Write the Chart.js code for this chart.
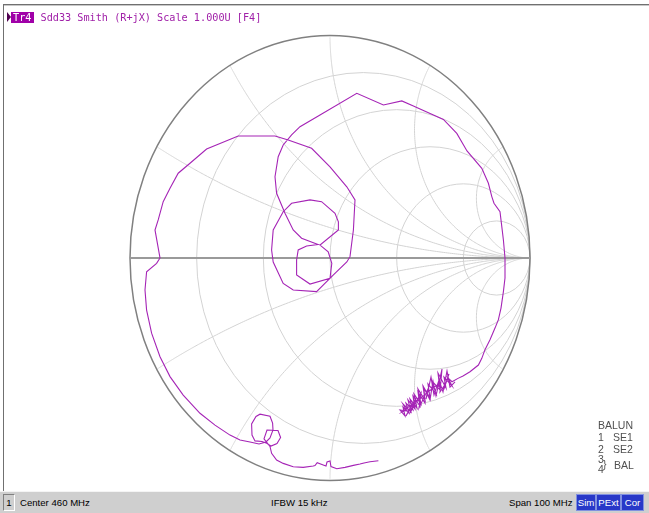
<!doctype html>
<html lang="en">
  <head>
    <meta charset="UTF-8">
    <title>Sdd33 Smith</title>
    <style>
      body { margin: 0; background: #fff; width: 649px; height: 513px; overflow: hidden; position: relative; font-family: "Liberation Sans", sans-serif; }
      #myChart { position: absolute; left: 0; top: 0; }
      .frameTop { position: absolute; left: 3px; top: 4px; width: 646px; height: 0; border-top: 1px solid #707070; border-bottom: 1px solid #c8c8c8; }
      .frameLeft { position: absolute; left: 3px; top: 4px; width: 0; height: 487px; border-left: 1px solid #707070; }
      .hdr { position: absolute; top: 11px; left: 7px; height: 13px; font: 10.2px "DejaVu Sans Mono", monospace; color: #a020a8; line-height: 13px; white-space: pre; }
      .hdr .tri { display: inline-block; width: 0; height: 0; border-top: 5px solid transparent; border-bottom: 5px solid transparent; border-left: 4px solid #500050; vertical-align: -1px; }
      .hdr .tr { background: #a000a8; color: #fff; padding: 0 3px 0 2px; }
      .legend span { position: absolute; font: 10.5px "Liberation Sans", sans-serif; color: #505050; white-space: pre; line-height: 11px; }
      .status { position: absolute; left: 0; top: 491px; width: 649px; height: 22px; background: #cfcfcf; border-top: 1px solid #f4f4f4; font: 9.6px "Liberation Sans", sans-serif; color: #000; }
      .status span { position: absolute; top: 5px; white-space: pre; }
      .status .num { left: 3px; top: 2px; width: 10px; height: 15px; border: 1px solid; border-color: #808080 #fff #fff #808080; text-align: center; line-height: 15px; }
      .status .flag { top: 2px; height: 15px; line-height: 15px; background: #2838c8; color: #fff; border: 1px solid #8090e0; text-align: center; }
    </style>
  </head>
  <body>
    <canvas id="myChart" width="649" height="513"></canvas>
    <div class="frameTop"></div>
    <div class="frameLeft"></div>
    <div class="hdr"><span class="tri"></span><span class="tr">Tr4</span> Sdd33 Smith (R+jX) Scale 1.000U [F4]</div>
    <div class="legend">
      <span style="left:598px;top:420px">BALUN</span>
      <span style="left:598px;top:432px">1</span><span style="left:613px;top:432px">SE1</span>
      <span style="left:598px;top:444px">2</span><span style="left:613px;top:444px">SE2</span>
      <span style="left:598px;top:454px">3</span>
      <span style="left:598px;top:464px">4</span>
      <span style="left:603px;top:459px">}</span><span style="left:614px;top:460px">BAL</span>
    </div>
    <div class="status">
      <span class="num">1</span>
      <span style="left:20px">Center 460 MHz</span>
      <span style="left:271px">IFBW 15 kHz</span>
      <span style="left:509px">Span 100 MHz</span>
      <span class="flag" style="left:576px;width:18px">Sim</span>
      <span class="flag" style="left:596px;width:23px">PExt</span>
      <span class="flag" style="left:621px;width:21px">Cor</span>
    </div>

    <script src="https://cdn.jsdelivr.net/npm/chart.js@4.4.1/dist/chart.umd.min.js"></script>
    <script>
    // Data----- (reflection coefficient, real / imaginary)
    const gammaRe = [
      0.242, 0.200, 0.170, 0.150, 0.117, 0.075, 0.034, 0.005, 0.000, -0.015,
      -0.020, -0.034, -0.064, -0.075, -0.084, -0.134, -0.184, -0.234, -0.267, -0.292,
      -0.300, -0.330, -0.315, -0.260, -0.247, -0.265, -0.295, -0.320, -0.340, -0.375,
      -0.390, -0.392, -0.370, -0.350, -0.300, -0.287, -0.285, -0.300, -0.320, -0.355,
      -0.400, -0.450, -0.500, -0.575, -0.650, -0.734, -0.800, -0.850, -0.892, -0.917,
      -0.925, -0.917, -0.867, -0.850, -0.875, -0.859, -0.834, -0.800, -0.759, -0.700,
      -0.617, -0.459, -0.275, -0.209, -0.092, 0.000, 0.084, 0.125, 0.117, 0.100,
      0.084, 0.017, -0.067, -0.184, -0.234, -0.284, -0.292, -0.284, -0.234, -0.192,
      -0.100, -0.042, 0.025, 0.042, 0.042, -0.050, -0.009, 0.009, 0.000, -0.100,
      -0.167, -0.167, -0.159, -0.117, -0.060, -0.142, -0.184, -0.225, -0.267, -0.275,
      -0.259, -0.234, -0.192, -0.150, -0.050, 0.134, 0.267, 0.359, 0.417, 0.567,
      0.634, 0.685, 0.759, 0.792, 0.809, 0.820, 0.850, 0.859, 0.867, 0.875,
      0.875, 0.867, 0.855, 0.842, 0.825, 0.800, 0.775, 0.759, 0.742, 0.700,
      0.665, 0.640, 0.610,
      0.590, 0.610, 0.570, 0.580, 0.540, 0.550, 0.510, 0.530, 0.490, 0.500,
      0.465, 0.475, 0.440, 0.455, 0.420, 0.435, 0.400, 0.415, 0.380, 0.395,
      0.365, 0.375, 0.350, 0.385, 0.365, 0.405, 0.390, 0.425, 0.415, 0.450,
      0.440, 0.475, 0.470, 0.500, 0.515, 0.530, 0.560, 0.550, 0.580, 0.595,
      0.570, 0.535, 0.495, 0.460, 0.425, 0.390, 0.360,
      0.370, 0.410, 0.380, 0.430, 0.400, 0.455, 0.445, 0.490, 0.480, 0.505,
      0.520, 0.545, 0.565, 0.585, 0.600, 0.625
    ];
    const gammaIm = [
      -0.911, -0.916, -0.921, -0.926, -0.932, -0.941, -0.947, -0.937, -0.912, -0.917,
      -0.935, -0.930, -0.920, -0.933, -0.935, -0.941, -0.938, -0.923, -0.908, -0.878,
      -0.847, -0.813, -0.773, -0.775, -0.807, -0.834, -0.845, -0.831, -0.825, -0.822,
      -0.796, -0.746, -0.712, -0.702, -0.711, -0.742, -0.773, -0.809, -0.827, -0.836,
      -0.827, -0.818, -0.796, -0.751, -0.698, -0.616, -0.533, -0.444, -0.338, -0.234,
      -0.144, -0.062, -0.024, 0.000, 0.126, 0.171, 0.253, 0.313, 0.381, 0.426,
      0.490, 0.548, 0.548, 0.530, 0.493, 0.410, 0.320, 0.261, 0.126, 0.006,
      -0.018, -0.076, -0.151, -0.144, -0.114, -0.018, 0.036, 0.126, 0.208, 0.246,
      0.261, 0.253, 0.201, 0.163, 0.126, 0.058, 0.028, -0.024, -0.091, -0.117,
      -0.076, -0.009, 0.036, 0.054, 0.061, 0.089, 0.126, 0.201, 0.291, 0.365,
      0.455, 0.508, 0.553, 0.590, 0.643, 0.740, 0.688, 0.706, 0.683, 0.623,
      0.560, 0.481, 0.403, 0.336, 0.276, 0.246, 0.208, 0.141, 0.081, 0.000,
      -0.090, -0.151, -0.225, -0.277, -0.315, -0.367, -0.412, -0.451, -0.481, -0.511,
      -0.530, -0.541, -0.556,
      -0.539, -0.575, -0.535, -0.584, -0.517, -0.593, -0.553, -0.611, -0.566, -0.629,
      -0.575, -0.638, -0.589, -0.656, -0.611, -0.674, -0.634, -0.683, -0.652, -0.697,
      -0.670, -0.710, -0.683, -0.688, -0.656, -0.692, -0.638, -0.679, -0.620, -0.665,
      -0.602, -0.652, -0.584, -0.638, -0.553, -0.620, -0.499, -0.602, -0.562, -0.521,
      -0.589, -0.571, -0.598, -0.625, -0.652, -0.670, -0.692,
      -0.688, -0.656, -0.710, -0.629, -0.697, -0.607, -0.674, -0.589, -0.634, -0.535,
      -0.616, -0.548, -0.602, -0.508, -0.580, -0.557
    ];
    // grid values
    const resistanceCircles = [0.2, 0.5, 1, 2, 5];
    const reactanceArcs = [0.268, 0.577, 1, 1.732, 3.732];
    // Data-----

    // Smith grid drawn through the chart scales
    const smithGrid = {
      id: 'smithGrid',
      beforeDatasetsDraw(chart) {
        const {ctx, scales: {x, y}} = chart;
        const px = v => x.getPixelForValue(v);
        const py = v => y.getPixelForValue(v);
        ctx.save();
        ctx.lineWidth = 1;
        ctx.strokeStyle = '#d3d3d3';
        resistanceCircles.forEach(r => {
          const c = r / (1 + r), rad = 1 / (1 + r);
          ctx.beginPath();
          ctx.ellipse(px(c), py(0), px(rad) - px(0), py(0) - py(rad), 0, 0, 2 * Math.PI);
          ctx.stroke();
        });
        reactanceArcs.forEach(xv => [xv, -xv].forEach(xx => {
          ctx.beginPath();
          for (let i = -1; i <= 500; i++) {
            const r = i < 0 ? 0 : Math.pow(10, -3 + i * 7 / 500);
            const d = (r + 1) * (r + 1) + xx * xx;
            const gr = ((r - 1) * (r + 1) + xx * xx) / d;
            const gi = 2 * xx / d;
            if (i < 0) ctx.moveTo(px(gr), py(gi)); else ctx.lineTo(px(gr), py(gi));
          }
          ctx.lineTo(px(1), py(0));
          ctx.stroke();
        }));
        // outer circle
        ctx.strokeStyle = '#808080';
        ctx.lineWidth = 1.5;
        ctx.beginPath();
        ctx.ellipse(px(0), py(0), px(1) - px(0), py(0) - py(1), 0, 0, 2 * Math.PI);
        ctx.stroke();
        // real axis
        ctx.strokeStyle = '#9a9a9a';
        ctx.lineWidth = 2;
        ctx.beginPath();
        ctx.moveTo(px(-1), py(0));
        ctx.lineTo(px(1), py(0));
        ctx.stroke();
        ctx.restore();
      }
    };

    const config = {
      type: 'scatter',
      data: {
        datasets: [{
          label: 'Sdd33',
          data: gammaRe.map((v, i) => ({x: v, y: gammaIm[i]})),
          showLine: true,
          borderColor: '#a524b6',
          borderWidth: 1.1,
          pointRadius: 0,
          tension: 0
        }]
      },
      options: {
        responsive: false,
        animation: false,
        layout: { padding: { left: 130, right: 119, top: 35.5, bottom: 32.5 } },
        plugins: { legend: { display: false }, tooltip: { enabled: false } },
        scales: {
          x: { type: 'linear', min: -1, max: 1, display: false },
          y: { type: 'linear', min: -1, max: 1, display: false }
        }
      },
      plugins: [smithGrid]
    };

    var myChart = new Chart(document.getElementById('myChart'), config);
    </script>
  </body>
</html>
